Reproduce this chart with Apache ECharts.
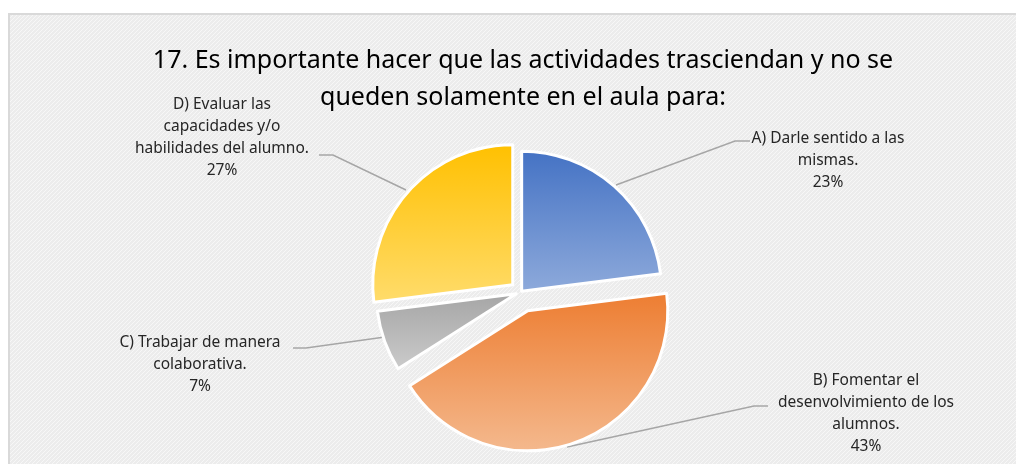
<!DOCTYPE html>
<html lang="es">
<head>
    <meta charset="UTF-8">
    <script src="https://cdn.jsdelivr.net/npm/echarts@6/dist/echarts.min.js"></script>
    <title>Pregunta 17</title>
    <style>
        html, body { margin: 0; padding: 0; background: #fff; }
    </style>
</head>
<body>
<div id="main" style="width: 1016px;height:464px;"></div>
<script type="text/javascript">
    // datos
    var categorias = [
        'A) Darle sentido a las\nmismas.',
        'B) Fomentar el\ndesenvolvimiento de los\nalumnos.',
        'C) Trabajar de manera\ncolaborativa.',
        'D) Evaluar las\ncapacidades y/o\nhabilidades del alumno.'
    ];
    var porcentajes = [23, 43, 7, 27];

    var coloresArriba = ['#4472c4', '#ed7d31', '#a5a5a5', '#ffc000'];
    var coloresAbajo = ['#8eaadb', '#f4b98e', '#cbcbcb', '#ffdc6c'];
    // separación (px) de cada porción respecto al centro
    var separacion = [1, 20, 5, 11];

    var centro = [521, 292];
    var radio = 140;

    // posición de cada etiqueta (centro) y puntos de su línea guía
    var posEtiquetas = [
        { x: 828, y: 161, linea: [[616, 185], [735, 141], [750, 141]] },
        { x: 866, y: 414, linea: [[567, 447], [754, 406], [768, 406]] },
        { x: 200, y: 365, linea: [[385, 337], [306, 348], [293, 348]] },
        { x: 222, y: 138, linea: [[406, 190], [333, 155], [319, 155]] }
    ];

    // fondo con rayas diagonales
    var trama = document.createElement('canvas');
    trama.width = 4;
    trama.height = 4;
    var ctx = trama.getContext('2d');
    ctx.fillStyle = '#ececec';
    ctx.fillRect(0, 0, 4, 4);
    ctx.fillStyle = '#f7f7f7';
    for (var i = 0; i < 4; i++) {
        ctx.fillRect(i, 3 - i, 1, 1);
    }

    var total = porcentajes.reduce(function (a, b) { return a + b; }, 0);

    // una serie por porción: así cada una se separa por su cuenta
    var series = [];
    var acumulado = 0;
    porcentajes.forEach(function (v, k) {
        var medio = (90 - (acumulado + v / 2) / total * 360) * Math.PI / 180;
        acumulado += v;
        var c = [
            centro[0] + separacion[k] * Math.cos(medio),
            centro[1] - separacion[k] * Math.sin(medio)
        ];
        var datos = categorias.map(function (nombre, i) {
            if (i !== k) {
                return {
                    name: nombre,
                    value: porcentajes[i],
                    itemStyle: { color: 'transparent', borderWidth: 0 },
                    label: { show: false },
                    labelLine: { show: false }
                };
            }
            return {
                name: nombre,
                value: porcentajes[i],
                itemStyle: {
                    color: {
                        type: 'linear', x: 0, y: 0, x2: 0, y2: 1,
                        colorStops: [
                            { offset: 0, color: coloresArriba[i] },
                            { offset: 1, color: coloresAbajo[i] }
                        ]
                    }
                }
            };
        });
        series.push({
            type: 'pie',
            center: c,
            radius: radio,
            startAngle: 90,
            silent: true,
            emphasis: { disabled: true },
            itemStyle: {
                borderColor: '#ffffff',
                borderWidth: 3
            },
            label: {
                show: true,
                formatter: '{b}\n{d}%',
                fontFamily: 'Noto Sans',
                fontSize: 15.5,
                lineHeight: 22,
                color: '#262626',
                align: 'center'
            },
            labelLine: {
                show: true,
                lineStyle: { color: '#a6a6a6', width: 1.5 }
            },
            labelLayout: function (params) {
                var p = posEtiquetas[params.dataIndex];
                return {
                    x: p.x,
                    y: p.y,
                    align: 'center',
                    verticalAlign: 'middle',
                    labelLinePoints: p.linea
                };
            },
            data: datos
        });
    });

    var myChart = echarts.init(document.getElementById('main'));

    var option = {
        backgroundColor: '#ffffff',
        animation: false,
        graphic: [{
            type: 'rect',
            z: -10,
            silent: true,
            shape: { x: 9, y: 14, width: 1020, height: 470 },
            style: {
                fill: { image: trama, repeat: 'repeat' },
                stroke: '#d9d9d9',
                lineWidth: 2
            }
        }],
        title: {
            text: '17. Es importante hacer que las actividades trasciendan y no se\nqueden solamente en el aula para:',
            left: 518,
            top: 37,
            textAlign: 'center',
            textStyle: {
                fontFamily: 'Noto Sans',
                fontSize: 25,
                fontWeight: 'normal',
                color: '#000000',
                lineHeight: 37
            }
        },
        series: series
    };

    myChart.setOption(option);
</script>
</body>
</html>
